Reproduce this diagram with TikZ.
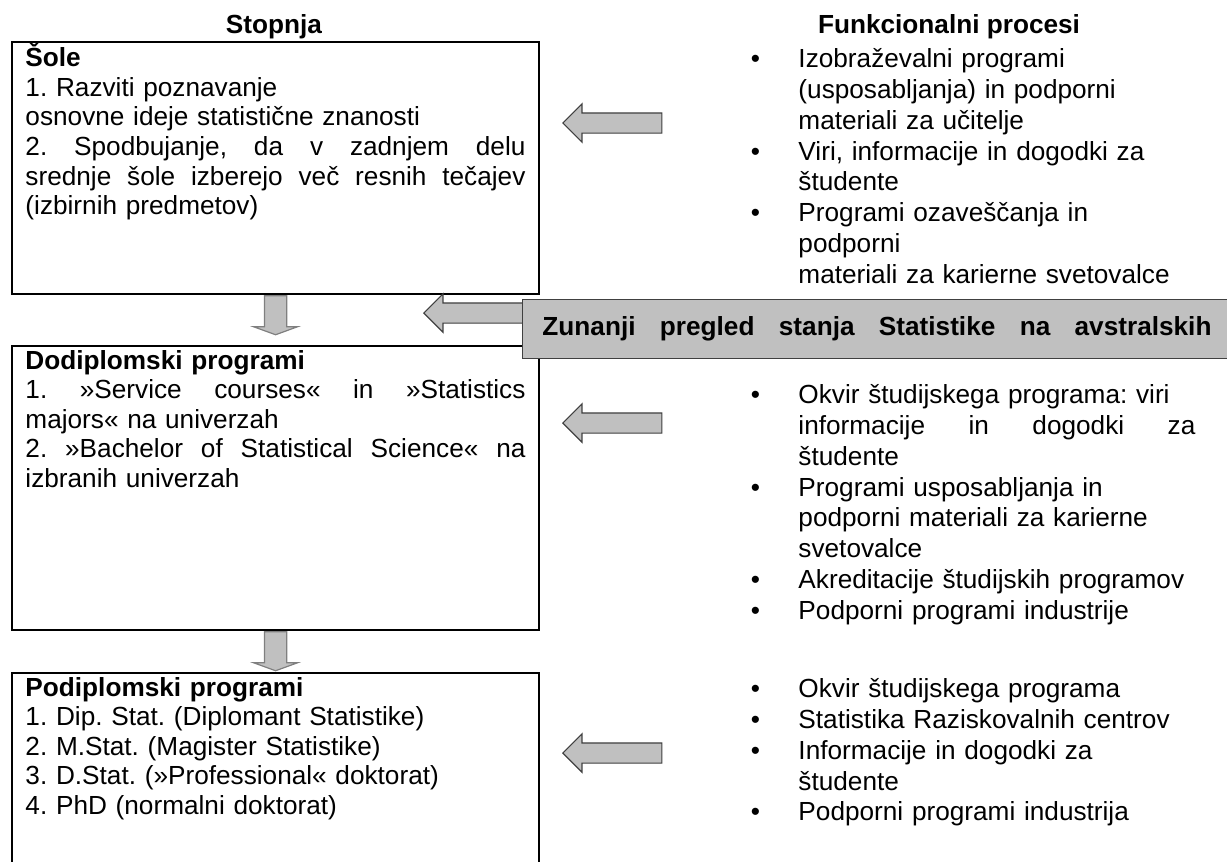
\documentclass[tikz,border=0pt]{standalone}
\usepackage{fontspec}
\setmainfont{Liberation Sans}
\usetikzlibrary{shapes.arrows}
\definecolor{arrowfill}{HTML}{C0C0C0}
\definecolor{arrowline}{HTML}{404040}
\definecolor{downline}{HTML}{7F7F7F}
\newcommand{\pxu}{0.42pt}
\newcommand{\stagetw}{210pt}
\newcommand{\proctw}{166.7pt}
\newcommand{\natspaces}{\spaceskip=0pt\relax\xspaceskip=0pt\relax}
\newcommand{\itm}{\leavevmode\llap{\makebox[20pt][l]{\textbullet}}}
\newcommand{\jline}[2]{\makebox[#1][s]{\natspaces #2}}

\begin{document}
\begin{tikzpicture}[x=0.42pt,y=-0.42pt,
    txt/.style={font=\fontsize{11}{12.4}\selectfont\frenchspacing\natspaces, inner sep=0pt, align=left, anchor=north west},
    proc/.style={txt, font=\fontsize{11}{13}\selectfont\frenchspacing\natspaces, text width=\proctw},
    hd/.style={font=\fontsize{11}{12.65}\selectfont\bfseries, inner sep=0pt},
    stagebox/.style={draw, line width=0.9pt, minimum width=527*\pxu, anchor=north west, inner sep=0pt},
    leftarrow/.style={single arrow, draw=arrowline, fill=arrowfill, line width=0.5pt, rotate=180,
        inner sep=0pt, inner ysep=9.5*\pxu, minimum height=99*\pxu, minimum width=37*\pxu,
        single arrow head extend=9*\pxu, anchor=tip},
    downarrow/.style={single arrow, draw=downline, fill=arrowfill, line width=0.5pt, rotate=270,
        inner sep=0pt, inner ysep=10.5*\pxu, minimum height=39*\pxu, minimum width=43*\pxu,
        single arrow head extend=11*\pxu, single arrow tip angle=140, anchor=tail},
    banner/.style={draw=arrowline, fill=arrowfill, line width=0.6pt, anchor=north west, inner sep=0pt}]
        \newcommand{\figstagex}{11}
        \newcommand{\figstagetextx}{25}
        \newcommand{\figlistx}{798}
        \newcommand{\figarrowtipx}{562}
        \useasboundingbox (0,0) rectangle (1227,861);
        \clip (0,0) rectangle (1227,861);
        % column heads
        \node[hd, anchor=base] (stopnja) at (274,33) {Stopnja};
        \node[hd, anchor=base] (procesi) at (949,33) {Funkcionalni procesi};
        % stages
        \node[stagebox, minimum height=252*\pxu] (sole) at (\figstagex,41) {};
        \node[stagebox, minimum height=284*\pxu] (dodipl) at (\figstagex,345) {};
        \node[stagebox, minimum height=260*\pxu] (podipl) at (\figstagex,672) {};
        \node[txt, text width=\stagetw] (soletxt) at (\figstagetextx,43) {\strut\textbf{Šole}\\
            1. Razviti poznavanje\\
            osnovne ideje statistične znanosti\\
            \jline{\stagetw}{2. Spodbujanje, da v zadnjem delu}\\
            \jline{\stagetw}{srednje šole izberejo več resnih tečajev}\\
            (izbirnih predmetov)};
        \node[txt, text width=\stagetw] (dodipltxt) at (\figstagetextx,348) {\strut\textbf{Dodiplomski programi}\\
            \jline{\stagetw}{1. »Service courses« in »Statistics}\\
            majors« na univerzah\\
            \jline{\stagetw}{2. »Bachelor of Statistical Science« na}\\
            izbranih univerzah};
        \node[txt, text width=\stagetw] (podipltxt) at (\figstagetextx,675) {\strut\textbf{Podiplomski programi}\\
            1. Dip. Stat. (Diplomant Statistike)\\
            2. M.Stat. (Magister Statistike)\\
            3. D.Stat. (»Professional« doktorat)\\
            4. PhD (normalni doktorat)};
        \node[downarrow] (down1) at (sole.south) {};
        \node[downarrow] (down2) at (dodipl.south) {};
        % processes
        \node[proc] (soleproc) at (\figlistx,45) {\strut\itm Izobraževalni programi\\
            (usposabljanja) in podporni\\
            materiali za učitelje\\
            \itm Viri, informacije in dogodki za\\
            študente\\
            \itm Programi ozaveščanja in\\
            podporni\\
            materiali za karierne svetovalce};
        \node[proc] (dodiplproc) at (\figlistx,381) {\strut\itm Okvir študijskega programa: viri\\
            \jline{\proctw}{informacije in dogodki za}\\
            študente\\
            \itm Programi usposabljanja in\\
            podporni materiali za karierne\\
            svetovalce\\
            \itm Akreditacije študijskih programov\\
            \itm Podporni programi industrije};
        \node[proc] (podiplproc) at (\figlistx,675) {\strut\itm Okvir študijskega programa\\
            \itm Statistika Raziskovalnih centrov\\
            \itm Informacije in dogodki za\\
            študente\\
            \itm Podporni programi industrija};
        \node[leftarrow] (solearrow) at (\figarrowtipx,123) {};
        \node[leftarrow] (dodiplarrow) at (\figarrowtipx,423) {};
        \node[leftarrow] (podiplarrow) at (\figarrowtipx,753) {};
        % external review
        \node[leftarrow, minimum height=110*\pxu] (reviewarrow) at (423,313) {};
        \node[banner, minimum width=730*\pxu, minimum height=59*\pxu] (review) at (522,299) {};
        \node[hd, anchor=base west] (reviewtxt) at (542,335) {\makebox[281pt][s]{Zunanji pregled stanja Statistike na avstralskih}};
\end{tikzpicture}
\end{document}
